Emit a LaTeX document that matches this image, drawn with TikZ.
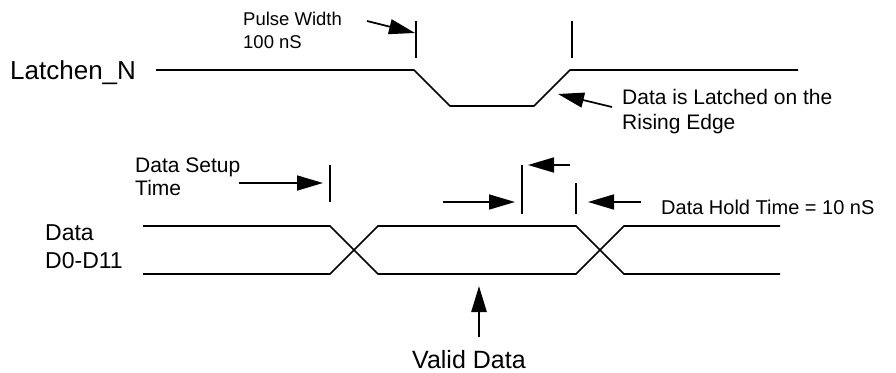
\documentclass[tikz,border=0pt]{standalone}
\usepackage{fontspec}
\setmainfont{Liberation Sans}
\usetikzlibrary{arrows.meta}
\begin{document}
\begin{tikzpicture}[x=1pt,y=-1pt,
  wave/.style={line width=1.7pt, line join=miter},
  tickmark/.style={line width=1.7pt},
  pointer/.style={line width=1.7pt, -{Triangle[length=26pt,width=15pt]}},
  bigpointer/.style={line width=2.6pt, -{Triangle[length=26pt,width=15pt]}},
  lbl/.style={inner sep=0pt, anchor=base west},
]
\useasboundingbox (0,0) rectangle (896,372);

% ---------- texts ----------
\node[lbl, font=\fontsize{26}{26}\selectfont] (latch) at (10,79) {Latchen\_N};
\node[lbl, font=\fontsize{18.5}{18.5}\selectfont] (pw1) at (243,25) {Pulse Width};
\node[lbl, font=\fontsize{18.5}{18.5}\selectfont] (pw2) at (243,48) {100 nS};
\node[lbl, font=\fontsize{21}{21}\selectfont] (dl1) at (622,104) {Data is Latched on the};
\node[lbl, font=\fontsize{21}{21}\selectfont] (dl2) at (622,129) {Rising Edge};
\node[lbl, font=\fontsize{21}{21}\selectfont] (ds1) at (135,172) {Data Setup};
\node[lbl, font=\fontsize{21}{21}\selectfont] (ds2) at (135,195) {Time};
\node[lbl, font=\fontsize{23}{23}\selectfont] (d1) at (45,240) {Data};
\node[lbl, font=\fontsize{23}{23}\selectfont] (d2) at (45,268) {D0-D11};
\node[lbl, font=\fontsize{20}{20}\selectfont] (dh) at (661,214) {Data Hold Time = 10 nS};
\node[lbl, font=\fontsize{25}{25}\selectfont] (vd) at (412,368) {Valid Data};

% ---------- Latchen_N waveform ----------
\coordinate (l0) at (156,70);
\coordinate (l1) at (414,70);
\coordinate (l2) at (450,106);
\coordinate (l3) at (534,106);
\coordinate (l4) at (570,70);
\coordinate (l5) at (798,70);
\draw[wave] (l0) -- (l1) -- (l2) -- (l3) -- (l4) -- (l5);

% pulse width ticks
\coordinate (t1a) at (416,21); \coordinate (t1b) at (416,58);
\coordinate (t2a) at (572,21); \coordinate (t2b) at (572,58);
\draw[tickmark] (t1a) -- (t1b);
\draw[tickmark] (t2a) -- (t2b);

% pulse width arrow
\coordinate (pwt) at (367,21);
\coordinate (pwh) at (415,33);
\draw[pointer] (pwt) -- (pwh);

% rising edge arrow
\coordinate (ret) at (612,107);
\coordinate (reh) at (558,94);
\draw[pointer] (ret) -- (reh);

% ---------- Data waveform ----------
\coordinate (a0) at (143,226);
\coordinate (a1) at (330,226);
\coordinate (a2) at (378,274);
\coordinate (a3) at (576,274);
\coordinate (a4) at (624,226);
\coordinate (a5) at (780,226);
\coordinate (b0) at (143,274);
\coordinate (b1) at (330,274);
\coordinate (b2) at (378,226);
\coordinate (b3) at (576,226);
\coordinate (b4) at (624,274);
\coordinate (b5) at (780,274);
\draw[wave] (a0) -- (a1) -- (a2) -- (a3) -- (a4) -- (a5);
\draw[wave] (b0) -- (b1) -- (b2) -- (b3) -- (b4) -- (b5);

% setup time
\coordinate (s1a) at (330,165); \coordinate (s1b) at (330,202);
\draw[tickmark] (s1a) -- (s1b);
\coordinate (sat) at (239,183); \coordinate (sah) at (323,183);
\draw[pointer] (sat) -- (sah);

% hold time
\coordinate (h1a) at (522,165); \coordinate (h1b) at (522,214);
\coordinate (h2a) at (576,183); \coordinate (h2b) at (576,214);
\draw[tickmark] (h1a) -- (h1b);
\draw[tickmark] (h2a) -- (h2b);
\coordinate (hat) at (443,202); \coordinate (hah) at (515,202);
\draw[pointer] (hat) -- (hah);
\coordinate (hbt) at (570,165); \coordinate (hbh) at (528,165);
\draw[pointer] (hbt) -- (hbh);
\coordinate (hct) at (641,202); \coordinate (hch) at (588,202);
\draw[pointer] (hct) -- (hch);

% valid data arrow
\coordinate (vt) at (479,337); \coordinate (vh) at (479,286);
\draw[bigpointer] (vt) -- (vh);
\end{tikzpicture}
\end{document}
